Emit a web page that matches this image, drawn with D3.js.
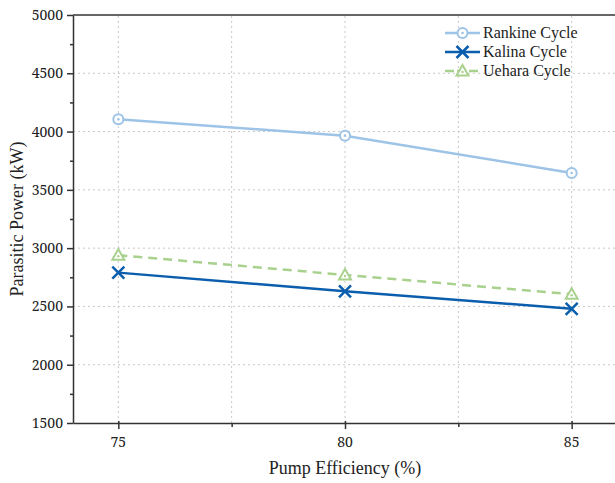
<!DOCTYPE html>
<html>
<head>
<meta charset="utf-8">
<script src="https://cdn.jsdelivr.net/npm/d3@7"></script>
<style>
body { margin: 0; background: #fff; }
.grid line { stroke: #c8c8c8; stroke-dasharray: 2,3; stroke-width: 1; }
.axis path, .axis line { stroke: #333; stroke-width: 1.5; }
</style>
</head>
<body>
<div id="chart"></div>
<script>
const efficiency = [75, 80, 85];
const rankine = [4105, 3965, 3645];
const kalina = [2790, 2630, 2480];
const uehara = [2940, 2770, 2605];
const yTicks = [1500, 2000, 2500, 3000, 3500, 4000, 4500, 5000];

const width = 615, height = 483;
const margin = {top: 15, right: -2, bottom: 60, left: 73};
const serif = "'Liberation Serif'";
const numFont = "'Noto Serif'";

const svg = d3.select('#chart').append("svg")
    .attr("width", width)
    .attr("height", height);

const x = d3.scaleLinear().domain([74, 86]).range([margin.left, width - margin.right]);
const y = d3.scaleLinear().domain([1500, 5000]).range([height - margin.bottom, margin.top]);

// grid
const grid = svg.append("g").attr("class", "grid");
grid.selectAll("line.h")
    .data(yTicks.slice(1, -1))
    .enter().append("line")
    .attr("x1", margin.left).attr("x2", width)
    .attr("y1", d => y(d)).attr("y2", d => y(d));
grid.selectAll("line.v")
    .data([75, 77.5, 80, 82.5, 85])
    .enter().append("line")
    .attr("y1", y(1500)).attr("y2", y(5000))
    .attr("x1", d => x(d)).attr("x2", d => x(d));

// axes (tick lines from d3, labels drawn separately)
const xAxis = svg.append("g").attr("class", "axis")
    .attr("transform", "translate(0," + y(1500) + ")")
    .call(d3.axisBottom(x).tickValues(efficiency).tickSize(6).tickSizeOuter(0).tickFormat(""));
xAxis.selectAll(".tick line").attr("y1", -2);
svg.append("g").attr("class", "axis")
    .attr("transform", "translate(0," + y(1500) + ")")
    .call(d3.axisBottom(x).tickValues([77.5, 82.5]).tickSize(4).tickFormat("").tickSizeOuter(0))
    .select(".domain").remove();

svg.append("g").attr("class", "axis")
    .attr("transform", "translate(" + margin.left + ",0)")
    .call(d3.axisLeft(y).tickValues(yTicks).tickSize(6).tickSizeOuter(0).tickFormat(""));
svg.append("g").attr("class", "axis")
    .attr("transform", "translate(" + margin.left + ",0)")
    .call(d3.axisLeft(y).tickValues(d3.range(1750, 5000, 500)).tickSize(3).tickFormat(""))
    .select(".domain").remove();

svg.append("g").selectAll("text")
    .data(efficiency)
    .enter().append("text")
    .attr("x", d => x(d)).attr("y", y(1500) + 24)
    .attr("text-anchor", "middle")
    .attr("fill", "#222")
    .style("font-size", "14px").style("font-family", numFont)
    .text(d => d);
svg.append("g").selectAll("text")
    .data(yTicks)
    .enter().append("text")
    .attr("x", margin.left - 10).attr("y", d => y(d) + 5)
    .attr("text-anchor", "end")
    .attr("fill", "#222")
    .style("font-size", "14px").style("font-family", numFont)
    .text(d => d);

// top spine
svg.append("line")
    .attr("x1", margin.left).attr("x2", width)
    .attr("y1", y(5000)).attr("y2", y(5000))
    .attr("stroke", "#333").attr("stroke-width", 1.5);

// labels
svg.append("text")
    .attr("x", x(80)).attr("y", 474)
    .attr("text-anchor", "middle")
    .attr("fill", "#222")
    .style("font-size", "18px").style("font-family", serif)
    .text("Pump Efficiency (%)");
svg.append("text")
    .attr("transform", "translate(23," + y(3250) + ") rotate(-90)")
    .attr("text-anchor", "middle")
    .attr("fill", "#222")
    .style("font-size", "18px").style("font-family", serif)
    .text("Parasitic Power (kW)");

const series = [
    {name: "Rankine Cycle", values: rankine, color: "#9dc3e6", dash: null, marker: "circle"},
    {name: "Kalina Cycle", values: kalina, color: "#0b5ead", dash: null, marker: "cross"},
    {name: "Uehara Cycle", values: uehara, color: "#a9d18e", dash: "9,6", marker: "triangle"}
];

const line = d3.line().x((d, i) => x(efficiency[i])).y(d => y(d));

function drawMarker(g, type, color) {
    if (type === "circle") {
        g.append("circle").attr("r", 5).attr("fill", "#fff")
            .attr("stroke", color).attr("stroke-width", 2);
        g.append("circle").attr("r", 1.3).attr("fill", color);
    } else if (type === "cross") {
        g.append("path").attr("d", "M-6,-6L6,6M-6,6L6,-6")
            .attr("stroke", color).attr("stroke-width", 2.5).attr("fill", "none");
    } else {
        g.append("path").attr("d", "M0,-6L6,4.5L-6,4.5Z")
            .attr("fill", "#fff").attr("stroke", color).attr("stroke-width", 2);
        g.append("circle").attr("r", 1.2).attr("fill", color).attr("cy", 1);
    }
}

series.forEach(s => {
    svg.append("path")
        .datum(s.values)
        .attr("d", line)
        .attr("fill", "none")
        .attr("stroke", s.color)
        .attr("stroke-width", 2.5)
        .attr("stroke-dasharray", s.dash);
    s.values.forEach((v, i) => {
        const g = svg.append("g").attr("transform", "translate(" + x(efficiency[i]) + "," + y(v) + ")");
        drawMarker(g, s.marker, s.color);
    });
});

// legend
const legend = svg.append("g").attr("transform", "translate(445,33)");
series.forEach((s, i) => {
    const row = legend.append("g").attr("transform", "translate(0," + (i * 19) + ")");
    row.append("line").attr("x1", 0).attr("x2", 35)
        .attr("stroke", s.color).attr("stroke-width", 2.5)
        .attr("stroke-dasharray", s.dash ? "9,3" : null);
    const m = row.append("g").attr("transform", "translate(17.5,0)");
    drawMarker(m, s.marker, s.color);
    row.append("text").attr("x", 38).attr("y", 5)
        .attr("fill", "#222")
        .style("font-size", "16px").style("font-family", serif)
        .text(s.name);
});
</script>
</body>
</html>
